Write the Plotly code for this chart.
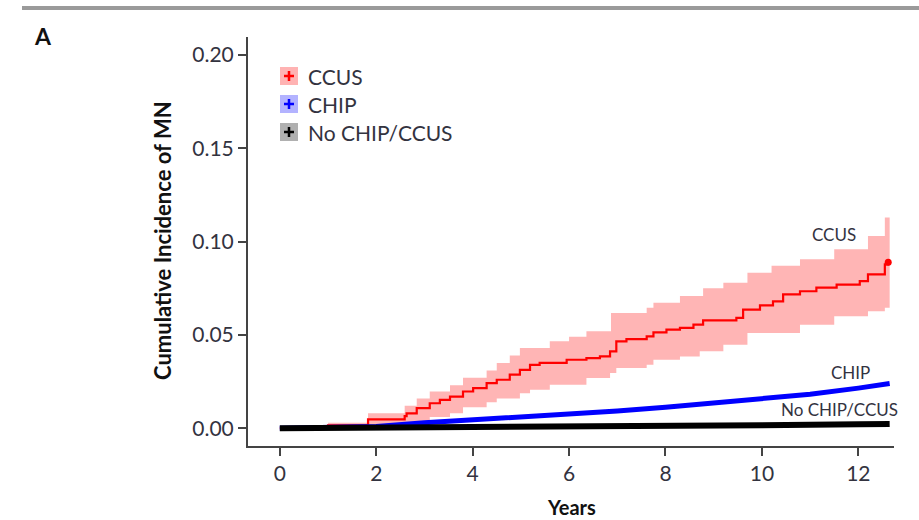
import plotly.graph_objects as go

# ---- data: cumulative incidence of MN by clonal status (step estimates) ----
ccus_t = [0.0, 1.0, 1.83, 2.59, 2.63, 2.84, 3.11, 3.32, 3.53, 3.80, 4.01, 4.29, 4.50,
          4.77, 4.98, 5.19, 5.39, 5.95, 6.36, 6.64, 6.85, 6.98, 7.19, 7.61, 7.75,
          8.02, 8.30, 8.58, 8.78, 9.47, 9.61, 9.96, 10.23, 10.44, 10.79, 11.13,
          11.55, 12.03, 12.20, 12.55, 12.62]
ccus_v = [0.0, 0.0015, 0.0048, 0.0065, 0.0080, 0.0108, 0.0134, 0.0152, 0.0170, 0.0197,
          0.0215, 0.0242, 0.0260, 0.0287, 0.0313, 0.0340, 0.0350, 0.0367, 0.0376,
          0.0385, 0.0412, 0.0466, 0.0478, 0.0492, 0.0514, 0.0528, 0.0538, 0.0555,
          0.0578, 0.0591, 0.0636, 0.0658, 0.0680, 0.0717, 0.0734, 0.0753, 0.0770,
          0.0788, 0.0824, 0.0878, 0.0890]

ccus_hi_t = [0.0, 1.0, 1.83, 2.59, 2.84, 3.11, 3.53, 3.80, 4.29, 4.50, 4.77, 4.98,
             5.60, 6.00, 6.36, 6.87, 7.61, 7.75, 8.30, 8.78, 9.20, 9.70, 10.20,
             10.79, 11.50, 12.20, 12.55, 12.65]
ccus_hi_v = [0.0, 0.0030, 0.0080, 0.0120, 0.0160, 0.0197, 0.0230, 0.0270, 0.0310,
             0.0350, 0.0390, 0.0430, 0.0466, 0.0490, 0.0520, 0.0618, 0.0645, 0.0672,
             0.0708, 0.0750, 0.0780, 0.0833, 0.0870, 0.0905, 0.0959, 0.1030, 0.1129,
             0.1129]

ccus_lo_t = [0.0, 1.83, 2.59, 3.11, 3.53, 3.80, 4.29, 4.50, 4.98, 5.19, 5.60, 6.36,
             6.85, 6.98, 7.61, 7.75, 8.30, 8.71, 9.20, 9.70, 10.79, 11.50, 12.20,
             12.55, 12.65]
ccus_lo_v = [0.0, 0.0005, 0.0020, 0.0060, 0.0080, 0.0113, 0.0140, 0.0160, 0.0188,
             0.0206, 0.0233, 0.0269, 0.0296, 0.0323, 0.0340, 0.0367, 0.0385, 0.0412,
             0.0448, 0.0510, 0.0555, 0.0600, 0.0627, 0.0645, 0.0645]

chip_t = [0.0, 1.0, 2.0, 3.0, 4.0, 5.0, 6.0, 7.0, 8.0, 9.0, 10.0, 11.0, 12.0, 12.65]
chip_v = [0.0, 0.0003, 0.0010, 0.0030, 0.0045, 0.0058, 0.0072, 0.0092, 0.0113,
          0.0134, 0.0156, 0.0182, 0.0215, 0.0240]

none_t = [0.0, 2.0, 4.0, 6.0, 8.0, 10.0, 12.0, 12.65]
none_v = [0.0, 0.0002, 0.0004, 0.0008, 0.0012, 0.0016, 0.0021, 0.0023]

x_ticks = [0, 2, 4, 6, 8, 10, 12]
y_ticks = [0.00, 0.05, 0.10, 0.15, 0.20]
y_tick_text = ["0.00", "0.05", "0.10", "0.15", "0.20"]

groups = ["CCUS", "CHIP", "No CHIP/CCUS"]
line_colors = ["#ff0000", "#0000ff", "#000000"]
swatch_colors = ["#ffb3b3", "#b3b3ff", "#b0b0b0"]

# ---- layout geometry (pixels) ----
FIG_W, FIG_H = 919, 520
L, R, T, B = 248, 894, 37, 446
PW, PH = R - L, B - T


def px(x):
    return (x - L) / PW


def py(y):
    return (B - y) / PH


FONT = "Lato, 'Open Sans', sans-serif"
TXT = "#33333f"
AX = "#444444"

fig = go.Figure()

# confidence band for CCUS
fig.add_trace(go.Scatter(x=ccus_hi_t, y=ccus_hi_v, mode="lines", line_shape="hv",
                         line=dict(width=0, color="rgba(255,0,0,0)"),
                         hoverinfo="skip", showlegend=False))
fig.add_trace(go.Scatter(x=ccus_lo_t, y=ccus_lo_v, mode="lines", line_shape="hv",
                         line=dict(width=0, color="rgba(255,0,0,0)"),
                         fill="tonexty", fillcolor="rgba(255,120,120,0.55)",
                         hoverinfo="skip", showlegend=False))

# estimate curves
fig.add_trace(go.Scatter(x=ccus_t, y=ccus_v, mode="lines", line_shape="hv",
                         line=dict(width=2.2, color=line_colors[0]),
                         name=groups[0], showlegend=False))
fig.add_trace(go.Scatter(x=[ccus_t[-1]], y=[ccus_v[-1]], mode="markers",
                         marker=dict(size=7, color=line_colors[0]),
                         hoverinfo="skip", showlegend=False))
fig.add_trace(go.Scatter(x=chip_t, y=chip_v, mode="lines",
                         line=dict(width=5, color=line_colors[1]),
                         name=groups[1], showlegend=False))
fig.add_trace(go.Scatter(x=none_t, y=none_v, mode="lines",
                         line=dict(width=6, color=line_colors[2]),
                         name=groups[2], showlegend=False))

shapes = []
annotations = []

# top rule
shapes.append(dict(type="line", xref="paper", yref="paper",
                   x0=px(22), x1=px(919), y0=py(8), y1=py(8),
                   line=dict(color="#9a9a9a", width=4)))

# legend: shaded square with a coloured cross
leg_rows = [76, 104, 132]
for name, lc, sc, yc in zip(groups, line_colors, swatch_colors, leg_rows):
    shapes.append(dict(type="rect", xref="paper", yref="paper",
                       x0=px(280), x1=px(298), y0=py(yc - 9), y1=py(yc + 9),
                       fillcolor=sc, line=dict(width=0)))
    shapes.append(dict(type="line", xref="paper", yref="paper",
                       x0=px(284), x1=px(294), y0=py(yc), y1=py(yc),
                       line=dict(color=lc, width=2.5)))
    shapes.append(dict(type="line", xref="paper", yref="paper",
                       x0=px(289), x1=px(289), y0=py(yc - 5), y1=py(yc + 5),
                       line=dict(color=lc, width=2.5)))
    annotations.append(dict(x=px(306), y=py(yc), xref="paper", yref="paper",
                            text=name, showarrow=False, xanchor="left",
                            yanchor="middle",
                            font=dict(family=FONT, size=21, color=TXT)))

# curve labels
curve_labels = [("CCUS", 11.49, 0.104), ("CHIP", 11.83, 0.030),
                ("No CHIP/CCUS", 11.6, 0.0098)]
for txt, lx, ly in curve_labels:
    annotations.append(dict(x=lx, y=ly, xref="x", yref="y", text=txt,
                            showarrow=False, xanchor="center", yanchor="middle",
                            font=dict(family=FONT, size=17, color=TXT)))

# panel letter
annotations.append(dict(x=px(43), y=py(36), xref="paper", yref="paper",
                        text="<b>A</b>", showarrow=False, xanchor="center",
                        yanchor="middle",
                        font=dict(family=FONT, size=23, color="#111111")))

# axis titles
annotations.append(dict(x=px(162), y=py(241), xref="paper", yref="paper",
                        text="<b>Cumulative Incidence of MN</b>", textangle=-90,
                        showarrow=False, xanchor="center", yanchor="middle",
                        font=dict(family=FONT, size=22, color="#111111")))
annotations.append(dict(x=px(571), y=py(507), xref="paper", yref="paper",
                        text="<b>Years</b>", showarrow=False, xanchor="center",
                        yanchor="middle",
                        font=dict(family=FONT, size=20, color="#111111")))

fig.update_layout(
    width=FIG_W, height=FIG_H,
    margin=dict(l=L, r=FIG_W - R, t=T, b=FIG_H - B, pad=0),
    paper_bgcolor="white", plot_bgcolor="white",
    shapes=shapes, annotations=annotations,
    showlegend=False,
    font=dict(family=FONT, size=21, color=TXT),
)
fig.update_xaxes(range=[-0.66, 12.74], tickvals=x_ticks, ticks="outside",
                 ticklen=8, tickwidth=2, tickcolor=AX, showline=True,
                 linecolor=AX, linewidth=2, showgrid=False, zeroline=False,
                 tickfont=dict(family=FONT, size=21, color=TXT))
fig.update_yaxes(range=[-0.0095, 0.2096], tickvals=y_ticks, ticktext=y_tick_text,
                 ticks="outside", ticklen=8, tickwidth=2, tickcolor=AX,
                 showline=True, linecolor=AX, linewidth=2, showgrid=False,
                 zeroline=False, tickfont=dict(family=FONT, size=21, color=TXT))

fig.write_html("out.html")
